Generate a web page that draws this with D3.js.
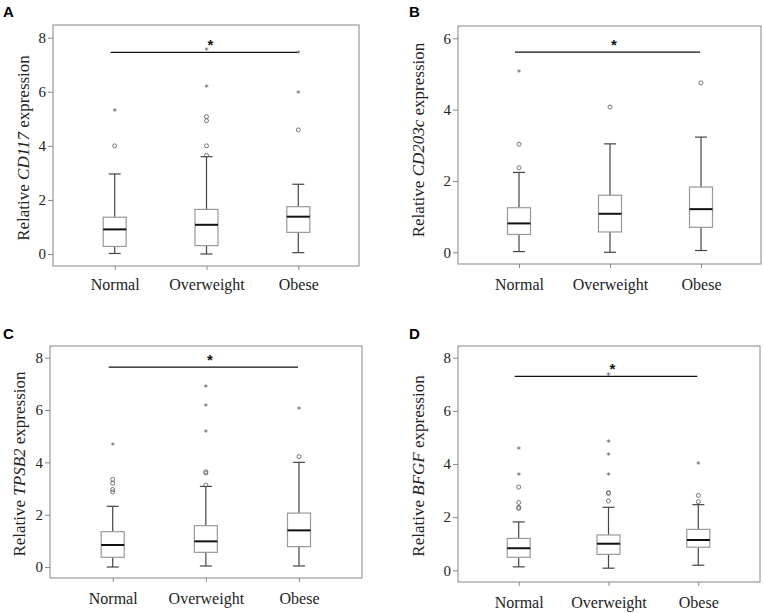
<!DOCTYPE html>
<html>
<head>
<meta charset="utf-8">
<script src="https://cdn.jsdelivr.net/npm/d3@7"></script>
<style>
  body { margin: 0; background: #fff; }
  svg { display: block; }
</style>
</head>
<body>
<svg id="chart" width="764" height="613"></svg>
<script>
// Relative mast cell marker expression by BMI group -- four box plots

var groups = ["Normal", "Overweight", "Obese"];

// box stats per group: [low whisker, Q1, median, Q3, high whisker]
var cd117Boxes = [[0.02, 0.28, 0.91, 1.36, 2.96], [0.0, 0.31, 1.08, 1.65, 3.6], [0.05, 0.8, 1.38, 1.75, 2.58]];
var cd117Circles = [[4.0], [3.65, 4.0, 4.93, 5.08], [4.59]];
var cd117Stars = [[5.31], [6.18, 7.55], [5.97, 7.46]];

var cd203Boxes = [[0.02, 0.5, 0.81, 1.25, 2.24], [0.0, 0.57, 1.08, 1.6, 3.04], [0.05, 0.7, 1.21, 1.83, 3.23]];
var cd203Circles = [[2.37, 3.03], [4.07], [4.75]];
var cd203Stars = [[5.08], [], []];

var tpsbBoxes = [[0.0, 0.37, 0.84, 1.35, 2.32], [0.04, 0.56, 0.98, 1.58, 3.08], [0.04, 0.78, 1.4, 2.06, 4.0]];
var tpsbCircles = [[2.87, 2.96, 3.2, 3.35], [3.13, 3.59, 3.64], [4.22]];
var tpsbStars = [[4.68], [5.17, 6.18, 6.9], [6.05]];

var bfgfBoxes = [[0.13, 0.49, 0.83, 1.2, 1.82], [0.08, 0.6, 1.0, 1.33, 2.37], [0.19, 0.87, 1.14, 1.54, 2.47]];
var bfgfCircles = [[2.33, 2.37, 2.55, 3.13], [2.61, 2.9, 2.92], [2.58, 2.82]];
var bfgfStars = [[3.6, 4.58], [3.61, 4.34, 4.85, 7.36], [4.01]];

var ticksA = [0, 2, 4, 6, 8];
var ticksB = [0, 2, 4, 6];
var sigLevels = [7.46, 5.61, 7.64, 7.3];

var svg = d3.select("#chart");
var serif = "Liberation Serif";
var sans = "Liberation Sans";

var panels = [
  { letter: "A", gene: "CD117", boxes: cd117Boxes, circles: cd117Circles, stars: cd117Stars, ticks: ticksA, sig: sigLevels[0],
    frame: [53, 25, 359, 266], yr: [254, 37.7], xr: [114.7, 298.3], lx: 3, ly: 17, tx: 25, ty: 148, cy: 290 },
  { letter: "B", gene: "CD203c", boxes: cd203Boxes, circles: cd203Circles, stars: cd203Stars, ticks: ticksB, sig: sigLevels[1],
    frame: [458, 26, 761, 264], yr: [252.3, 38.3], xr: [519, 701], lx: 409, ly: 17, tx: 420, ty: 140, cy: 290 },
  { letter: "C", gene: "TPSB2", boxes: tpsbBoxes, circles: tpsbCircles, stars: tpsbStars, ticks: ticksA, sig: sigLevels[2],
    frame: [50, 346, 362, 578], yr: [567, 357.7], xr: [112.7, 299], lx: 3, ly: 339, tx: 21, ty: 464, cy: 604 },
  { letter: "D", gene: "BFGF", boxes: bfgfBoxes, circles: bfgfCircles, stars: bfgfStars, ticks: ticksA, sig: sigLevels[3],
    frame: [458, 346, 760, 582], yr: [570.3, 357.7], xr: [518.7, 698.3], lx: 409, ly: 339, tx: 420, ty: 466, cy: 608 }
];

panels.forEach(function (p) {
  var g = svg.append("g");
  var y = d3.scaleLinear().domain([0, p.ticks[p.ticks.length - 1]]).range(p.yr);
  var x = d3.scalePoint().domain(groups).range(p.xr);
  var f = p.frame;

  g.append("text").attr("x", p.lx).attr("y", p.ly)
    .style("font-family", sans).style("font-weight", "bold").style("font-size", "15px")
    .text(p.letter);

  g.append("rect").attr("x", f[0]).attr("y", f[1])
    .attr("width", f[2] - f[0]).attr("height", f[3] - f[1])
    .attr("fill", "none").attr("stroke", "#999").attr("stroke-width", 1.2);

  // y axis, drawn on the frame's left edge
  var yAxis = g.append("g").attr("transform", "translate(" + f[0] + ",0)")
    .call(d3.axisLeft(y).tickValues(p.ticks).tickSize(5).tickPadding(2).tickFormat(d3.format("d")));
  yAxis.select(".domain").remove();
  yAxis.selectAll("line").attr("stroke", "#888");
  yAxis.selectAll("text").attr("fill", "#222")
    .style("font-family", serif).style("font-size", "15px");

  // x axis ticks and labels
  var xAxis = g.append("g").attr("transform", "translate(0," + f[3] + ")")
    .call(d3.axisBottom(x).tickSize(4).tickPadding(0));
  xAxis.select(".domain").remove();
  xAxis.selectAll("line").attr("stroke", "#888");
  xAxis.selectAll("text").attr("fill", "#222").attr("dy", null).attr("y", p.cy - f[3])
    .style("font-family", serif).style("font-size", "16px");

  var title = g.append("text")
    .attr("transform", "translate(" + p.tx + "," + p.ty + ") rotate(-90)")
    .attr("text-anchor", "middle").attr("dominant-baseline", "middle")
    .style("font-family", serif).style("font-size", "17px").attr("fill", "#222");
  title.append("tspan").text("Relative ");
  title.append("tspan").style("font-style", "italic").text(p.gene);
  title.append("tspan").text(" expression");

  var bw = 23, cw = 12;
  groups.forEach(function (name, i) {
    var b = p.boxes[i], cx = x(name);
    var bg = g.append("g");
    // whiskers
    bg.append("line").attr("x1", cx).attr("x2", cx).attr("y1", y(b[4])).attr("y2", y(b[3]))
      .attr("stroke", "#444").attr("stroke-width", 1.2);
    bg.append("line").attr("x1", cx).attr("x2", cx).attr("y1", y(b[1])).attr("y2", y(b[0]))
      .attr("stroke", "#444").attr("stroke-width", 1.2);
    [b[0], b[4]].forEach(function (v) {
      bg.append("line").attr("x1", cx - cw / 2).attr("x2", cx + cw / 2).attr("y1", y(v)).attr("y2", y(v))
        .attr("stroke", "#444").attr("stroke-width", 1.2);
    });
    bg.append("rect").attr("x", cx - bw / 2).attr("y", y(b[3]))
      .attr("width", bw).attr("height", y(b[1]) - y(b[3]))
      .attr("fill", "#fff").attr("stroke", "#999").attr("stroke-width", 1.2);
    bg.append("line").attr("x1", cx - bw / 2).attr("x2", cx + bw / 2).attr("y1", y(b[2])).attr("y2", y(b[2]))
      .attr("stroke", "#111").attr("stroke-width", 2);

    bg.selectAll("circle").data(p.circles[i]).enter().append("circle")
      .attr("cx", cx).attr("cy", function (d) { return y(d); }).attr("r", 2)
      .attr("fill", "none").attr("stroke", "#666").attr("stroke-width", 0.9);

    bg.selectAll("text.star").data(p.stars[i]).enter().append("text")
      .attr("class", "star").attr("x", cx).attr("y", function (d) { return y(d) + 4.5; })
      .attr("text-anchor", "middle").style("font-family", "DejaVu Sans")
      .style("font-size", "9px").attr("fill", "#555").text("*");
  });

  // significance bar
  g.append("line").attr("x1", x("Normal") - 4).attr("x2", x("Obese") - 1)
    .attr("y1", y(p.sig)).attr("y2", y(p.sig)).attr("stroke", "#111").attr("stroke-width", 1.3);
  g.append("text").attr("x", x("Overweight") + 4).attr("y", y(p.sig) - 2)
    .attr("text-anchor", "middle").style("font-family", sans)
    .style("font-weight", "bold").style("font-size", "15px").attr("fill", "#111").text("*");
});
</script>
</body>
</html>
